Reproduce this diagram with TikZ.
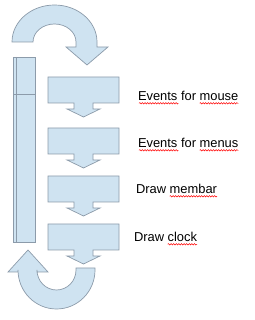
\documentclass[tikz,border=0pt]{standalone}
\usepackage{fontspec}
\setmainfont{Liberation Sans}
\usetikzlibrary{calc,decorations.pathmorphing}
\definecolor{shapefill}{RGB}{207,227,241}
\definecolor{shapeline}{RGB}{140,155,170}
\newcommand\lblfont{\fontsize{12.9}{15}\selectfont}
\newcommand\calloutbox[2]{%
  \node[boxn] (#1) at (83.5,#2) {};
  \draw[shp] (#1.south west) -- (#1.north west) -- (#1.north east) -- (#1.south east)
    -- ++(-26,0) -- ++(0,-6) -- ++(7,0) -- ++(-16.5,-8) -- ++(-16.5,8) -- ++(7,0) -- ++(0,6) -- cycle;}
\newcommand\wavyword[3]{% label node, prefix, word
  \node[lbl] (wvp) at (#1.base west) {\phantom{#2}};
  \node[lbl] (wvw) at (wvp.base east) {\phantom{#3}};
  \draw[wv] ([yshift=-2.8pt]wvw.base west) -- ([yshift=-2.8pt]wvw.base east);}
\begin{document}
\begin{tikzpicture}[x=1pt,y=1pt,
  shp/.style={draw=shapeline, fill=shapefill, line width=0.7pt, line join=miter},
  boxn/.style={minimum width=71pt, minimum height=26pt, inner sep=0pt, outer sep=0pt},
  lbl/.style={anchor=base west, inner sep=0pt, outer sep=0pt, font=\lblfont},
  wv/.style={draw=red, line width=0.5pt, decorate, decoration={snake, amplitude=0.7pt, segment length=2.6pt}}]
\useasboundingbox (0,0) rectangle (254,320);
% top circular arrow
\draw[shp] (12,278) arc[start angle=180,end angle=0,x radius=42.5,y radius=37]
  -- (97,273) -- (108,273) -- (87,255) -- (66,273) -- (76,273) -- (76,278)
  arc[start angle=0,end angle=180,x radius=21.5,y radius=18] -- cycle;
% bottom circular arrow
\draw[shp] (95,52) -- (95,50) arc[start angle=0,end angle=-180,x radius=38.5,y radius=39]
  -- (18,48) -- (8,48) -- (28,70) -- (48,48) -- (37,48) -- (37,50)
  arc[start angle=180,end angle=360,x radius=19.5,y radius=20] -- (76,52) -- cycle;
% left bar
\node[shp, minimum width=22pt, minimum height=185pt, inner sep=0pt, outer sep=0pt, anchor=south west] (bar) at (13,78) {};
\draw[shapeline, line width=0.7pt] ([xshift=3pt]bar.north west) -- ([xshift=3pt]bar.south west);
\draw[shapeline, line width=0.7pt] ([yshift=-37pt]bar.north west) -- ([yshift=-37pt]bar.north east);
% callout boxes
\calloutbox{b1}{230}
\calloutbox{b2}{179}
\calloutbox{b3}{131}
\calloutbox{b4}{83}
% labels
\node[lbl] (t1) at (138,219.5) {Events for mouse};
\node[lbl] (t2) at (138,172.5) {Events for menus};
\node[lbl] (t3) at (136,126.5) {Draw membar};
\node[lbl] (t4) at (134,78.5) {Draw clock};
\wavyword{t1}{}{Events}
\wavyword{t1}{Events for\ }{mouse}
\wavyword{t2}{}{Events}
\wavyword{t2}{Events for\ }{menus}
\wavyword{t3}{Draw\ }{membar}
\wavyword{t4}{Draw\ }{clock}
\end{tikzpicture}
\end{document}
